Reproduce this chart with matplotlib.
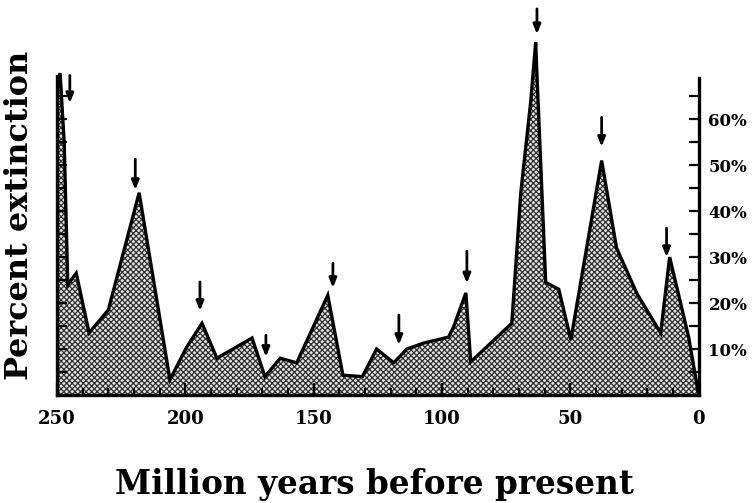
import matplotlib
matplotlib.use("Agg")
import matplotlib.pyplot as plt
from matplotlib.ticker import MultipleLocator, FixedLocator

# extinction curve (million years ago, percent)
myr = [250, 248.8, 247.2, 245.8, 242.5, 237.5, 230, 218, 206, 199.5, 193.5,
       187.7, 174, 169, 163, 156.6, 144.5, 138.6, 131, 125.5, 118.8, 113.7,
       107.1, 97.4, 95.5, 90.7, 88.8, 72.8, 69.3, 65.4, 63.5, 63.1, 59.6,
       54.5, 49.8, 37.8, 32, 24, 14.8, 11.3, 3.9, 0]
pct = [68, 70, 55, 24, 26.5, 13.5, 18.5, 44, 3.3, 10.4, 15.6,
       8, 12.4, 4, 8, 7, 21.7, 4.3, 4, 10, 7, 10,
       11.3, 12.6, 14.8, 22.2, 7.2, 15.6, 44, 64, 76.7, 71, 24.5,
       23, 12, 51, 32, 22, 13.5, 30, 12.6, 0]

# arrows marking the periodic peaks: position, tail, head (percent)
arrow_x = [245, 219.5, 194.3, 168.6, 142.5, 116.8, 90.3, 63, 37.8, 12.5]
arrow_top = [69.5, 51.3, 24.6, 13, 28.7, 17.4, 31.3, 84, 60.4, 36.3]
arrow_tip = [63.5, 44.6, 18.3, 8.3, 23.3, 10.9, 24.3, 78.5, 54, 30]

xticks = [250, 200, 150, 100, 50, 0]
yticks = [10, 20, 30, 40, 50, 60]
ylabels = ["10%", "20%", "30%", "40%", "50%", "60%"]

plt.rcParams['font.family'] = ['DejaVu Serif']
plt.rcParams['hatch.linewidth'] = 0.9

fig = plt.figure(figsize=(7.54, 5.03), dpi=100)
ax = fig.add_axes([0.0756, 0.2147, 0.851, 0.775])

ax.fill_between(myr, 0, pct, facecolor='#e4e4e4', edgecolor='#303030',
                hatch='xxxxxx', linewidth=0)
ax.plot(myr, pct, color='black', linewidth=2.4, solid_joinstyle='miter')

for x, top, tip in zip(arrow_x, arrow_top, arrow_tip):
    ax.annotate('', xy=(x, tip), xytext=(x, top),
                arrowprops=dict(arrowstyle='-|>,head_width=0.22,head_length=0.55',
                                color='black', lw=2.0, shrinkA=0, shrinkB=0),
                annotation_clip=False)

ax.set_xlim(250, 0)
ax.set_ylim(0, 84.8)

ax.spines['top'].set_visible(False)
for side in ['left', 'right', 'bottom']:
    ax.spines[side].set_linewidth(2.4)
ax.spines['left'].set_bounds(0, 69.5)
ax.spines['right'].set_bounds(0, 69)

ax.xaxis.set_major_locator(FixedLocator(xticks))
ax.xaxis.set_minor_locator(MultipleLocator(10))
ax.set_xticklabels([str(t) for t in xticks], fontsize=13, fontweight='bold')
ax.tick_params(axis='x', which='major', direction='in', length=9, width=1.6, pad=11)
ax.tick_params(axis='x', which='minor', direction='in', length=5, width=1.4)

ax.yaxis.tick_right()
ax.yaxis.set_major_locator(FixedLocator(yticks))
ax.yaxis.set_minor_locator(FixedLocator([5, 15, 25, 35, 45, 55, 65]))
ax.set_yticklabels(ylabels, fontsize=12, fontweight='bold')
ax.tick_params(axis='y', which='both', direction='in', length=7, width=1.6,
               left=True, right=True, labelleft=False, labelright=True, pad=7)

ax.set_ylabel('Percent extinction', fontsize=23, fontweight='bold')
ax.yaxis.set_label_position('left')
ax.yaxis.set_label_coords(-0.034, 0.46)

ax.set_xlabel('Million years before present', fontsize=23.5, fontweight='bold')
ax.xaxis.set_label_coords(0.495, -0.187)

fig.savefig('out.png', dpi=100)
